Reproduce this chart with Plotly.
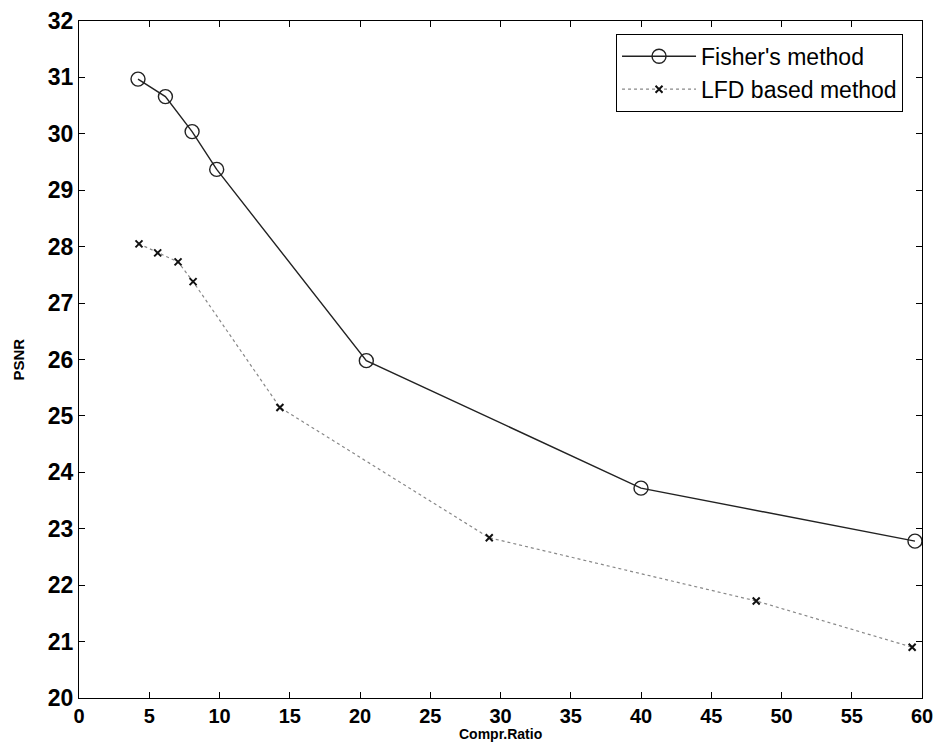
import plotly.graph_objects as go

fisher_x = [4.2, 6.15, 8.05, 9.8, 20.45, 40.0, 59.5]
fisher_y = [30.97, 30.66, 30.04, 29.37, 25.98, 23.72, 22.78]

lfd_x = [4.27, 5.6, 7.05, 8.12, 14.3, 29.2, 48.2, 59.3]
lfd_y = [28.05, 27.89, 27.73, 27.38, 25.15, 22.84, 21.72, 20.9]

x_ticks = list(range(0, 61, 5))
y_ticks = list(range(20, 33, 1))

font_family = "Liberation Sans, Arial, sans-serif"

fig = go.Figure()
fig.add_trace(go.Scatter(
    x=fisher_x, y=fisher_y, mode="lines+markers", name="Fisher's method",
    line=dict(color="#222222", width=1.4),
    marker=dict(symbol="circle-open", size=14, color="#222222", line=dict(width=1.4)),
))
fig.add_trace(go.Scatter(
    x=lfd_x, y=lfd_y, mode="lines+markers", name="LFD based method",
    line=dict(color="#888888", width=1.2, dash="dot"),
    marker=dict(symbol="x-thin", size=7, color="#111111", line=dict(width=2, color="#111111")),
))

axis_common = dict(
    showline=True, linecolor="black", linewidth=1.2, mirror="ticks",
    ticks="inside", ticklen=6, tickcolor="black", tickwidth=1,
    showgrid=False, zeroline=False, automargin=False,
)

# page body has an 8px margin; figure is sized/margined to compensate
fig.update_layout(
    width=935, height=735,
    margin=dict(l=71, r=21, t=13, b=45),
    paper_bgcolor="white", plot_bgcolor="white",
    font=dict(family=font_family, color="black"),
    xaxis=dict(
        range=[0, 60], tickvals=x_ticks, ticktext=[str(v) for v in x_ticks],
        tickfont=dict(size=20, color="black", weight="bold"),
        **axis_common,
    ),
    yaxis=dict(
        range=[20, 32], tickvals=y_ticks, ticktext=[str(v) for v in y_ticks],
        tickfont=dict(size=23, color="black", weight="bold"),
        **axis_common,
    ),
    legend=dict(
        x=0.9775, y=0.981, xanchor="right", yanchor="top",
        bgcolor="white", bordercolor="black", borderwidth=1,
        font=dict(size=23, color="black"),
        itemwidth=74, tracegroupgap=0,
    ),
    showlegend=True,
    annotations=[
        dict(text="Compr.Ratio", xref="paper", yref="paper", x=0.5, y=0,
             xanchor="center", yanchor="top", yshift=-26, showarrow=False,
             font=dict(size=14, color="black", weight="bold")),
        dict(text="PSNR", xref="paper", yref="paper", x=0, y=0.5,
             xanchor="center", yanchor="middle", xshift=-61, textangle=-90,
             showarrow=False, font=dict(size=15, color="black", weight="bold")),
    ],
)

fig.write_html("out.html")
